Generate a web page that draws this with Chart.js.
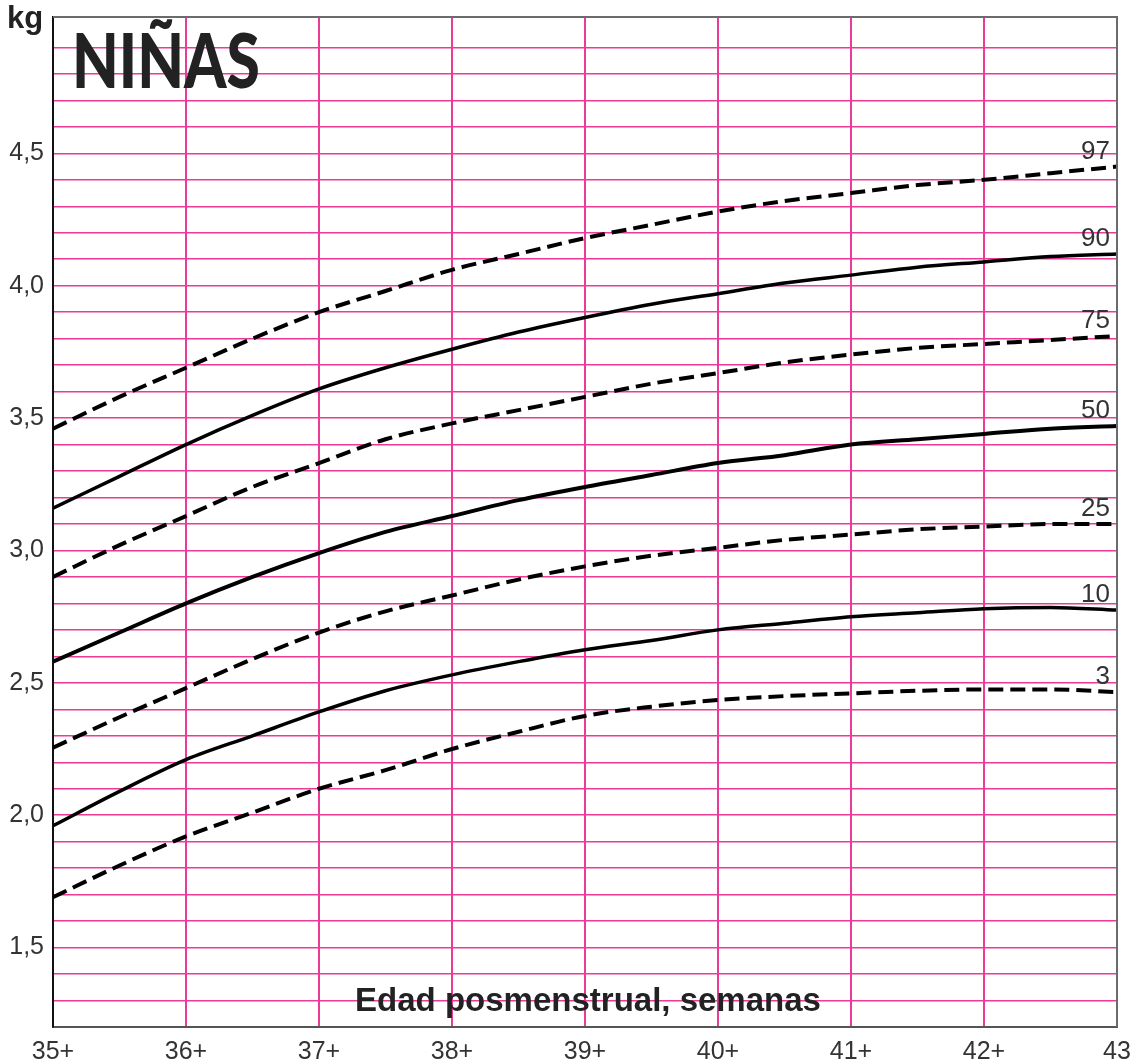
<!DOCTYPE html>
<html lang="es">
<head>
<meta charset="UTF-8">
<title>Niñas – peso según edad posmenstrual</title>
<script src="https://cdn.jsdelivr.net/npm/chart.js"></script>
<style>
  html, body { margin: 0; padding: 0; background: #fff; }
  .wrap { width: 1141px; height: 1064px; }
</style>
</head>
<body>
<div class="wrap"><canvas id="weightChart"></canvas></div>
<script>
  // edad posmenstrual (semanas) y percentiles de peso (kg)
  const weeks = [35, 35.5, 36, 36.5, 37, 37.5, 38, 38.5, 39, 39.5, 40, 40.5, 41, 41.5, 42, 42.5, 43];
  const weekLabels = ['35+', '36+', '37+', '38+', '39+', '40+', '41+', '42+', '43'];

  const p97 = [3.46, 3.58, 3.69, 3.80, 3.90, 3.98, 4.06, 4.12, 4.18, 4.23, 4.28, 4.32, 4.35, 4.38, 4.40, 4.425, 4.45];
  const p90 = [3.16, 3.28, 3.40, 3.51, 3.61, 3.69, 3.76, 3.825, 3.88, 3.93, 3.97, 4.01, 4.04, 4.07, 4.09, 4.11, 4.12];
  const p75 = [2.90, 3.02, 3.13, 3.24, 3.33, 3.42, 3.48, 3.53, 3.58, 3.63, 3.67, 3.71, 3.74, 3.765, 3.78, 3.795, 3.81];
  const p50 = [2.58, 2.69, 2.80, 2.90, 2.99, 3.07, 3.13, 3.19, 3.24, 3.285, 3.33, 3.36, 3.40, 3.42, 3.44, 3.46, 3.47];
  const p25 = [2.255, 2.37, 2.48, 2.59, 2.69, 2.77, 2.83, 2.89, 2.94, 2.98, 3.01, 3.04, 3.06, 3.08, 3.09, 3.10, 3.10];
  const p10 = [1.96, 2.09, 2.21, 2.30, 2.39, 2.47, 2.53, 2.58, 2.625, 2.66, 2.70, 2.725, 2.75, 2.765, 2.78, 2.785, 2.775];
  const p3  = [1.69, 1.81, 1.92, 2.01, 2.10, 2.17, 2.25, 2.315, 2.375, 2.41, 2.435, 2.45, 2.46, 2.47, 2.475, 2.475, 2.465];

  const pink = '#ec3a98';
  const dash = [15, 7];

  function curve(label, values, dashed, width) {
    return {
      label: label,
      data: weeks.map((w, i) => ({ x: w, y: values[i] })),
      borderColor: '#000',
      borderWidth: width,
      borderDash: dashed ? dash : [],
      pointRadius: 0,
      cubicInterpolationMode: 'monotone',
      fill: false
    };
  }

  const datasets = [
    curve('97', p97, true, 4),
    curve('90', p90, false, 3.5),
    curve('75', p75, true, 4),
    curve('50', p50, false, 4),
    curve('25', p25, true, 4),
    curve('10', p10, false, 3.5),
    curve('3', p3, true, 4)
  ];

  const sans = '"Liberation Sans", Arial, sans-serif';

  // marco, rótulos de percentiles y títulos
  const decor = {
    id: 'decor',
    afterDatasetsDraw(chart) {
      const { ctx, chartArea: a, scales: { y } } = chart;
      ctx.save();
      ctx.strokeStyle = '#6b6b6b';
      ctx.lineWidth = 2;
      ctx.beginPath();
      ctx.moveTo(a.left, a.top);
      ctx.lineTo(a.right, a.top);
      ctx.lineTo(a.right, a.bottom);
      ctx.stroke();

      ctx.fillStyle = '#333';
      ctx.font = '26px ' + sans;
      ctx.textAlign = 'right';
      ctx.textBaseline = 'alphabetic';
      chart.data.datasets.forEach(ds => {
        const last = ds.data[ds.data.length - 1];
        ctx.fillText(ds.label, a.right - 7, y.getPixelForValue(last.y) - 8);
      });

      // kg
      ctx.fillStyle = '#222';
      ctx.textAlign = 'left';
      ctx.font = 'bold 31px ' + sans;
      ctx.fillText('kg', 7, 28);

      // NIÑAS
      ctx.font = '900 76px Lato, ' + sans;
      const w = ctx.measureText('NIÑAS').width;
      ctx.save();
      ctx.translate(72, 88);
      ctx.scale(188 / w, 1);
      ctx.fillText('NIÑAS', 0, 0);
      ctx.restore();

      // título del eje x
      ctx.font = 'bold 33px ' + sans;
      ctx.textAlign = 'center';
      ctx.fillText('Edad posmenstrual, semanas', 588, 1011);
      ctx.restore();
    }
  };

  new Chart(document.getElementById('weightChart'), {
    type: 'line',
    data: { datasets: datasets },
    options: {
      responsive: true,
      maintainAspectRatio: false,
      animation: false,
      layout: { padding: { top: 17, right: 24, left: 0, bottom: 0 } },
      plugins: {
        legend: { display: false },
        tooltip: { enabled: false }
      },
      scales: {
        x: {
          type: 'linear',
          min: 35,
          max: 43,
          afterFit: s => { s.height = 37; s.paddingLeft = 0; s.paddingRight = 0; },
          border: { display: true, color: '#555', width: 2 },
          grid: { color: pink, lineWidth: 2, drawTicks: false },
          ticks: {
            stepSize: 1,
            autoSkip: false,
            padding: 10,
            color: '#333',
            font: { family: sans, size: 25 },
            maxRotation: 0,
            callback: v => weekLabels[Math.round(v) - 35]
          }
        },
        y: {
          min: 1.2,
          max: 5.015,
          afterFit: s => { s.width = 53; s.paddingTop = 0; s.paddingBottom = 0; },
          border: { display: true, color: '#111', width: 2 },
          grid: {
            color: c => (c.tick && c.tick.value > 4.95) ? 'rgba(0,0,0,0)' : pink,
            lineWidth: 1.5,
            drawTicks: false
          },
          ticks: {
            stepSize: 0.1,
            autoSkip: false,
            padding: 9,
            color: '#333',
            font: { family: sans, size: 25 },
            callback: v => {
              const t = Math.round(v * 10);
              if (t % 5 === 0 && t >= 15 && t <= 45) return (t / 10).toFixed(1).replace('.', ',');
              return '';
            }
          }
        }
      }
    },
    plugins: [decor]
  });
</script>
</body>
</html>
